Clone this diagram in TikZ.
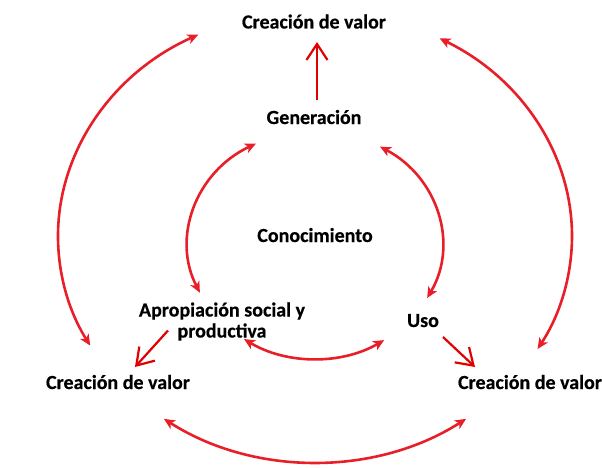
\documentclass[tikz,border=0pt]{standalone}
\usepackage{fontspec}
\setmainfont{Carlito}[BoldFeatures={FakeBold=0.4}]
\usetikzlibrary{arrows.meta,calc}
\definecolor{arcred}{RGB}{232,30,40}
\definecolor{valred}{RGB}{225,0,0}

\begin{document}
\begin{tikzpicture}[x=1pt,y=1pt,
	label/.style={font=\fontsize{20}{21}\selectfont\bfseries, text height=14pt, text depth=4pt, inner sep=0pt, align=center},
	arcarrow/.style={arcred, line width=2.6pt, {Stealth[length=11pt,width=10pt,inset=3pt]}-{Stealth[length=11pt,width=10pt,inset=3pt]}},
	valarrow/.style={valred, line width=2.2pt, -{Straight Barb[length=16pt,width=21pt]}}]
		\useasboundingbox (0,0) rectangle (602,467);
		\node[label] (topval) at (314,443.5) {Creación de valor};
		\node[label] (gen) at (314,348) {Generación};
		\node[label] (con) at (315,230) {Conocimiento};
		\node[label] (apro) at (222,134.5) {Apropiación social y\\productiva};
		\node[label] (uso) at (423,145) {Uso};
		\node[label] (leftval) at (118,83) {Creación de valor};
		\node[label] (rightval) at (530,83) {Creación de valor};
		\coordinate (inner) at ($(con)+(0,-7.5)$);
		% outer ring
		\foreach \a/\b in {117/209, 61/-30, 234/306}
		\draw[arcarrow] ($(con)+(0,1)+(\a:257 and 226)$) arc[start angle=\a, end angle=\b, x radius=257, y radius=226];
		% inner ring
		\foreach \a/\b in {117.7/205, 59.2/-28, 236/303}
		\draw[arcarrow] ($(inner)+(\a:127 and 114)$) arc[start angle=\a, end angle=\b, x radius=127, y radius=114];
		\draw[valarrow] ($(gen)+(3,19)$) -- ($(topval)+(3,-18.5)$);
		\draw[valarrow] ($(apro)+(-54,2)$) -- ($(leftval)+(17,17)$);
		\draw[valarrow] ($(uso)+(20,-15)$) -- ($(rightval)+(-55,17)$);
	\end{tikzpicture}
\end{document}
